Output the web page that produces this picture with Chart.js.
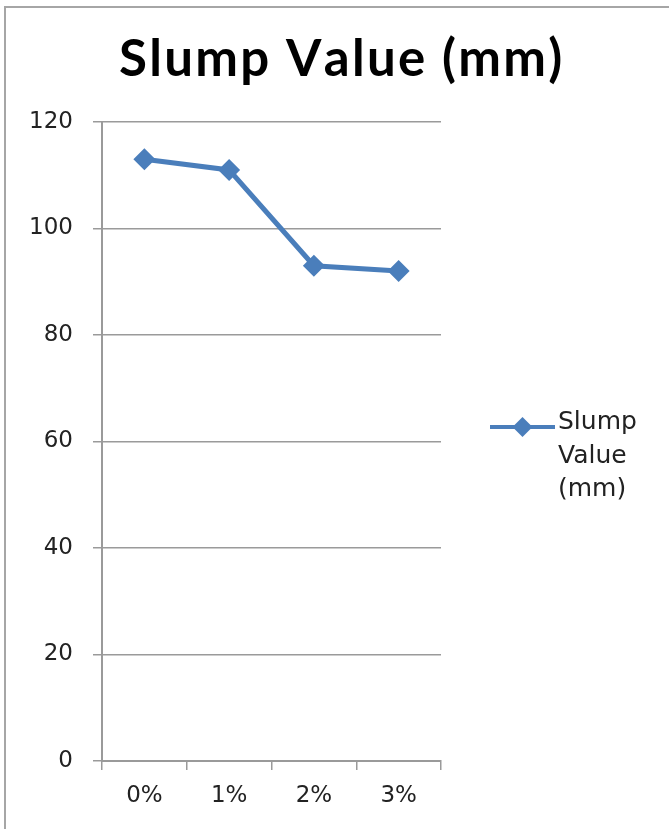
<!DOCTYPE html>
<html>
<head>
<meta charset="utf-8">
<script src="https://cdn.jsdelivr.net/npm/chart.js@4/dist/chart.umd.min.js"></script>
<style>
  html, body { margin: 0; padding: 0; background: #fff; }
  #wrap { position: relative; width: 669px; height: 829px; overflow: hidden; }
  #frame { position: absolute; left: 4px; top: 6px; right: -10px; bottom: -10px;
           border-top: 2px solid #a6a6a6; border-left: 2px solid #a6a6a6; pointer-events: none; }
  canvas { position: absolute; left: 0; top: 0; }
</style>
</head>
<body>
<div id="wrap">
  <canvas id="c" width="669" height="829"></canvas>
  <div id="frame"></div>
</div>
<script>
// Fibre dosage and measured slump
const categories = ['0%', '1%', '2%', '3%'];
const slumpValues = [113, 111, 93, 92];
const seriesName = 'Slump Value (mm)';
const yTicks = [0, 20, 40, 60, 80, 100, 120];

const lineColor = '#4a7ebb';
const tickFont = { family: 'DejaVu Sans', size: 23 };

// Title spread across a fixed span above the plot
const wideTitle = {
  id: 'wideTitle',
  afterDraw(chart) {
    const ctx = chart.ctx;
    const left = 119, right = 557, baseline = 76;
    ctx.save();
    ctx.fillStyle = '#000';
    ctx.font = 'bold 51px Lato';
    ctx.textBaseline = 'alphabetic';
    const w = ctx.measureText(seriesName).width;
    const gap = (right - left - w) / (seriesName.length - 1);
    let x = left;
    for (const ch of seriesName) {
      ctx.fillText(ch, x, baseline);
      x += ctx.measureText(ch).width + gap;
    }
    ctx.restore();
  }
};

// Legend at the right, with the label wrapped word by word
const sideLegend = {
  id: 'sideLegend',
  afterDraw(chart) {
    const ctx = chart.ctx;
    const ds = chart.data.datasets[0];
    const x0 = 490, x1 = 555, y = 427;
    ctx.save();
    ctx.strokeStyle = ds.borderColor;
    ctx.lineWidth = 4;
    ctx.beginPath(); ctx.moveTo(x0, y); ctx.lineTo(x1, y); ctx.stroke();
    ctx.fillStyle = ds.pointBackgroundColor;
    const cx = (x0 + x1) / 2, r = 10;
    ctx.beginPath();
    ctx.moveTo(cx, y - r); ctx.lineTo(cx + r, y); ctx.lineTo(cx, y + r); ctx.lineTo(cx - r, y);
    ctx.closePath(); ctx.fill();
    ctx.fillStyle = '#222';
    ctx.font = '25px "DejaVu Sans"';
    ctx.textBaseline = 'alphabetic';
    ds.label.split(' ').forEach((w, i) => ctx.fillText(w, 558, 429 + i * 33.5));
    ctx.restore();
  }
};

new Chart(document.getElementById('c'), {
  type: 'line',
  data: {
    labels: categories,
    datasets: [{
      label: seriesName,
      data: slumpValues,
      borderColor: lineColor,
      backgroundColor: lineColor,
      pointBackgroundColor: lineColor,
      pointBorderColor: lineColor,
      borderWidth: 5,
      pointStyle: 'rectRot',
      pointRadius: 11,
      pointBorderWidth: 0,
      tension: 0
    }]
  },
  options: {
    responsive: false,
    animation: false,
    layout: { padding: { left: 0, right: 228, top: 122, bottom: 0 } },
    plugins: {
      legend: { display: false },
      tooltip: { enabled: false },
      title: { display: false }
    },
    scales: {
      x: {
        offset: true,
        grid: { offset: true, drawOnChartArea: false, drawTicks: true, tickLength: 9, color: '#9a9a9a', lineWidth: 1.5 },
        border: { color: '#9a9a9a', width: 2 },
        ticks: { color: '#222', font: tickFont, padding: 12 },
        afterFit(s) { s.height = 68; }
      },
      y: {
        min: 0, max: 120,
        afterBuildTicks(s) { s.ticks = yTicks.map(v => ({ value: v })); },
        grid: { color: '#9a9a9a', lineWidth: 1.5, tickLength: 9 },
        border: { color: '#9a9a9a', width: 2 },
        ticks: { color: '#222', font: tickFont, padding: 20 },
        afterFit(s) { s.width = 102; }
      }
    }
  },
  plugins: [wideTitle, sideLegend]
});
</script>
</body>
</html>
